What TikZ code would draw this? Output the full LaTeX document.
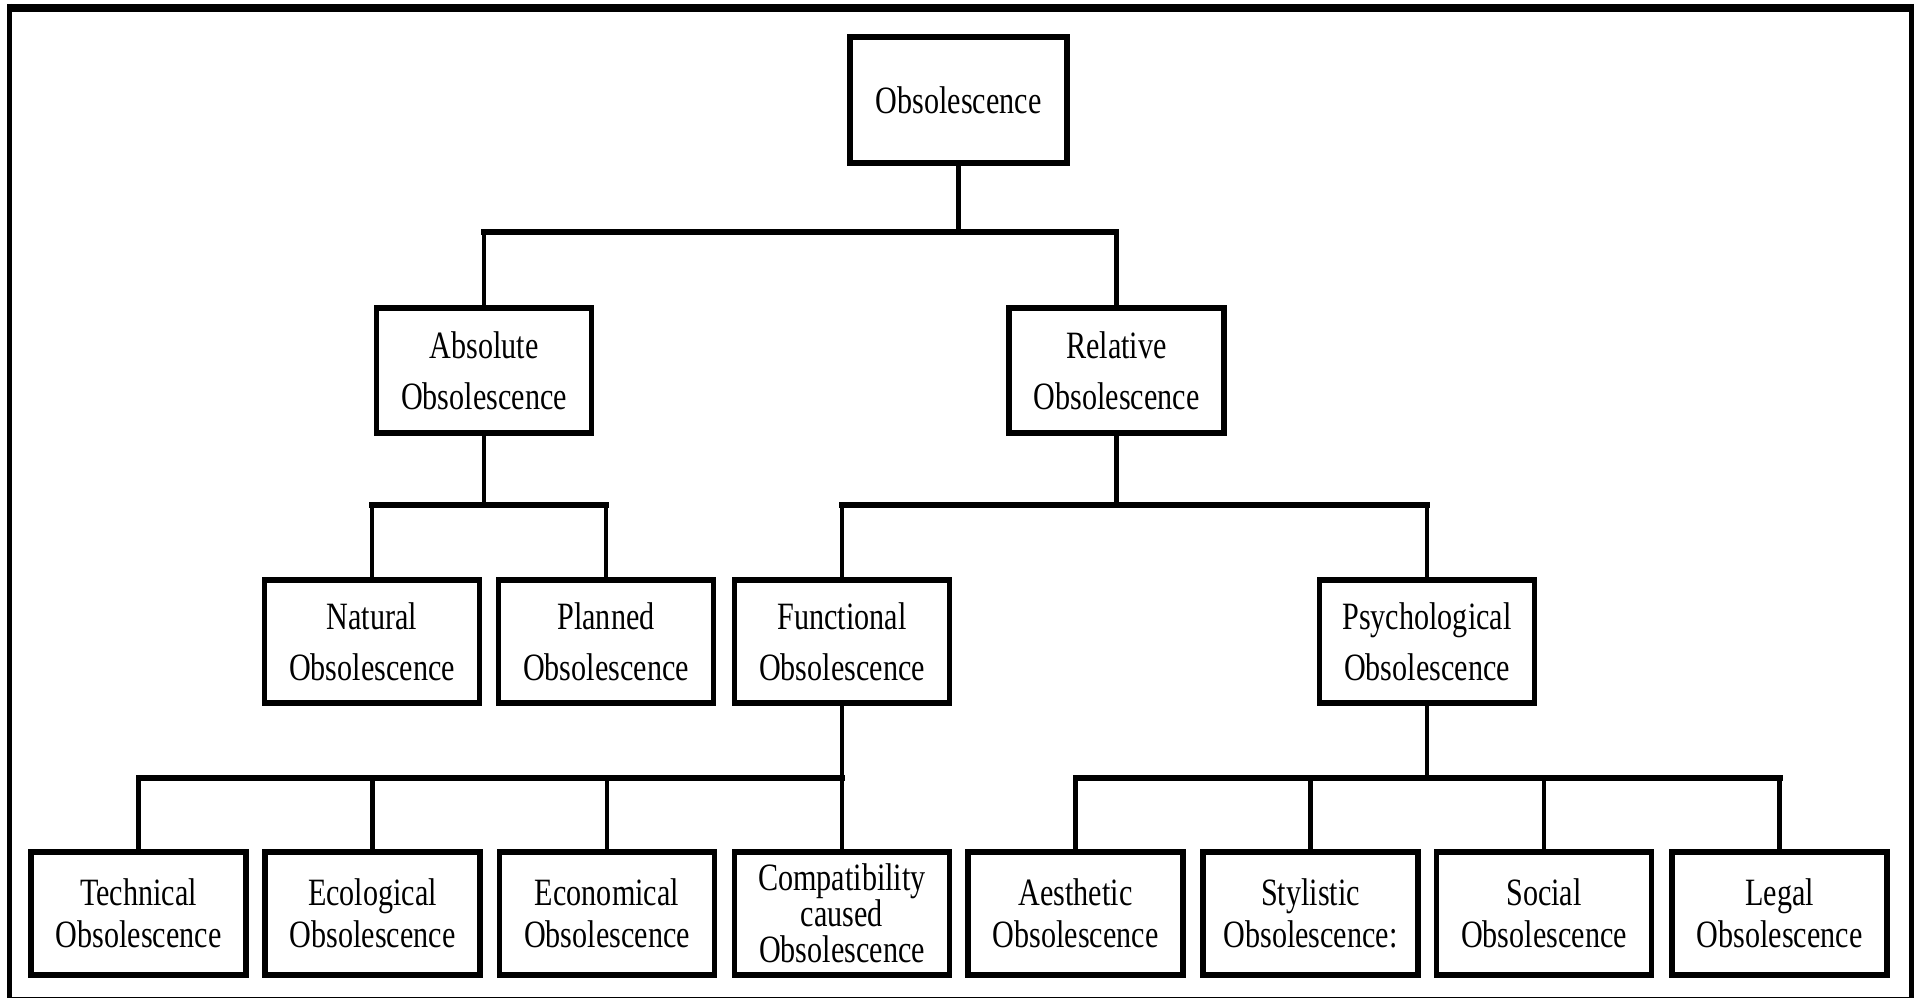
\documentclass[tikz,border=0pt]{standalone}
\usepackage{fontspec}
\setmainfont[FakeStretch=0.78]{Liberation Serif}

\begin{document}
\begin{tikzpicture}[
    box/.style={draw, line width=1.5pt, fill=white, minimum width=2.15cm,
        minimum height=1.23cm, inner sep=0pt, align=center,
        font=\fontsize{11}{14.5}\selectfont},
    leaf/.style={box, font=\fontsize{11}{12}\selectfont},
    stem/.style={line width=1.2pt},
    bar/.style={line width=1.7pt, line cap=rect}
]

    \useasboundingbox (0,0) rectangle (19.16,9.99);

    % Frame
    \draw[line width=0.08cm] (0.07,9.91) -- (19.14,9.91);
    \draw[line width=0.05cm] (0.095,9.95) -- (0.095,0.015);
    \draw[line width=0.05cm] (19.115,9.95) -- (19.115,0.015);
    \draw[line width=0.4pt] (0.07,0.015) -- (19.14,0.015);

    % Top
    \node[box, minimum width=2.17cm, minimum height=1.26cm] (obs) at (9.585,8.99) {Obsolescence};

    % Second level
    \node[box, minimum height=1.25cm] (abs) at (4.84,6.285) {Absolute\\Obsolescence};
    \node[box, minimum height=1.25cm] (rel) at (11.165,6.285) {Relative\\Obsolescence};

    % Third level
    \node[box] (nat) at (3.72,3.575) {Natural\\Obsolescence};
    \node[box] (pla) at (6.06,3.575) {Planned\\Obsolescence};
    \node[box] (fun) at (8.42,3.575) {Functional\\Obsolescence};
    \node[box] (psy) at (14.27,3.575) {Psychological\\Obsolescence};

    % Leaves
    \node[leaf] (tec) at (1.385,0.855) {Technical\\Obsolescence};
    \node[leaf] (eco) at (3.725,0.855) {Ecological\\Obsolescence};
    \node[leaf] (ecn) at (6.07,0.855) {Economical\\Obsolescence};
    \node[leaf, font=\fontsize{11}{10.3}\selectfont] (com) at (8.42,0.855) {Compatibility\\caused\\Obsolescence};
    \node[leaf] (aes) at (10.755,0.855) {Aesthetic\\Obsolescence};
    \node[leaf] (sty) at (13.105,0.855) {Stylistic\\Obsolescence:};
    \node[leaf] (soc) at (15.44,0.855) {Social\\Obsolescence};
    \node[leaf] (leg) at (17.795,0.855) {Legal\\Obsolescence};

    % Junctions
    \coordinate (j0) at (9.585,7.67);
    \coordinate (ja) at (4.84,4.94);
    \coordinate (jr) at (11.165,4.94);
    \coordinate (jf) at (8.42,2.21);
    \coordinate (jp) at (14.27,2.21);

    % Connectors
    \draw[stem] (obs.south) -- (j0);
    \draw[stem] (abs.south) -- (ja);
    \draw[stem] (rel.south) -- (jr);
    \draw[stem] (fun.south) -- (jf);
    \draw[stem] (psy.south) -- (jp);

    \foreach \n in {abs,rel}
        \draw[stem] (\n.north) -- (\n.north |- j0);
    \foreach \n in {nat,pla}
        \draw[stem] (\n.north) -- (\n.north |- ja);
    \foreach \n in {fun,psy}
        \draw[stem] (\n.north) -- (\n.north |- jr);
    \foreach \n in {tec,eco,ecn,com}
        \draw[stem] (\n.north) -- (\n.north |- jf);
    \foreach \n in {aes,sty,soc,leg}
        \draw[stem] (\n.north) -- (\n.north |- jp);

    \draw[bar] (abs.north |- j0) -- (rel.north |- j0);
    \draw[bar] (nat.north |- ja) -- (pla.north |- ja);
    \draw[bar] (fun.north |- jr) -- (psy.north |- jr);
    \draw[bar] (tec.north |- jf) -- (com.north |- jf);
    \draw[bar] (aes.north |- jp) -- (leg.north |- jp);

\end{tikzpicture}
\end{document}
